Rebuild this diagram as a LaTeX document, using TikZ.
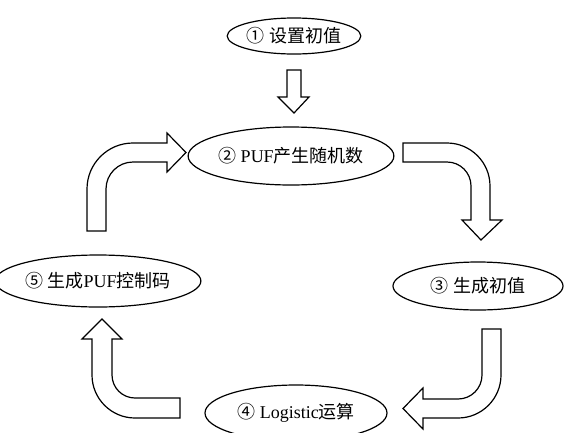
\documentclass[tikz,border=0pt]{standalone}
\usepackage{fontspec}
\setmainfont{Liberation Serif}
\newfontfamily\cjk{Noto Sans CJK SC}
\usetikzlibrary{shapes.geometric}
\tikzset{
  stage/.style={ellipse, draw, line width=1.2pt, inner sep=0pt, font=\fontsize{18}{21}\selectfont},
  blockarrow/.style={draw, line width=1.2pt, fill=white, line join=miter}
}
\begin{document}
\begin{tikzpicture}[x=1pt, y=-1pt]
\useasboundingbox (0,0) rectangle (565,432);
\clip (0,0) rectangle (565,432);
\fill[white] (0,0) rectangle (565,432);

% stages
\node[stage, minimum width=118pt, minimum height=36pt] (e1) at (294,36) {{\cjk ①} {\cjk 设置初值}};
\node[stage, minimum width=172pt, minimum height=58pt] (e2) at (291,156) {{\cjk ②} PUF{\cjk 产生随机数}};
\node[stage, minimum width=170pt, minimum height=48pt] (e3) at (478,286) {{\cjk ③} {\cjk 生成初值}};
\node[stage, minimum width=182pt, minimum height=56pt] (e4) at (296,413) {{\cjk ④} Logistic{\cjk 运算}};
\node[stage, minimum width=170pt, minimum height=52pt] (e5) at (98,281) {{\cjk ⑤} {\cjk 生成}PUF{\cjk 控制码}};

% 1 -> 2 straight block arrow
\draw[blockarrow] (287,70) -- (301,70) -- (301,97) -- (309,97) -- (294,113) -- (278,97) -- (287,97) -- cycle;

% 2 -> 3 bent block arrow
\draw[blockarrow] (403,143) -- (447,143)
  .. controls (470.7,143) and (490,162.3) .. (490,186)
  -- (490,220) -- (502,220) -- (481,240) -- (462,220) -- (471,220) -- (471,186)
  .. controls (471,172.7) and (460.3,162) .. (447,162)
  -- (403,162) -- cycle;

% 3 -> 4 bent block arrow
\draw[blockarrow] (482,329) -- (501,329) -- (501,375)
  .. controls (501,398.7) and (481.7,418) .. (458,418)
  -- (423,418) -- (423,429) -- (403,408.5) -- (423,388) -- (423,399) -- (458,399)
  .. controls (471.3,399) and (482,388.3) .. (482,375)
  -- cycle;

% 4 -> 5 bent block arrow
\draw[blockarrow] (180,418) -- (135,418)
  .. controls (111.3,418) and (92,398.7) .. (92,375)
  -- (92,339) -- (82,339) -- (102,319) -- (122,339) -- (112,339) -- (112,375)
  .. controls (112,387.7) and (122.3,398) .. (135,398)
  -- (180,398) -- cycle;

% 5 -> 2 bent block arrow
\draw[blockarrow] (87,231) -- (87,189)
  .. controls (87,163.6) and (107.6,143) .. (133,143)
  -- (167,143) -- (167,133) -- (186,152.5) -- (167,172) -- (167,162) -- (133,162)
  .. controls (118.1,162) and (106,174.1) .. (106,189)
  -- (106,231) -- cycle;
\end{tikzpicture}
\end{document}
